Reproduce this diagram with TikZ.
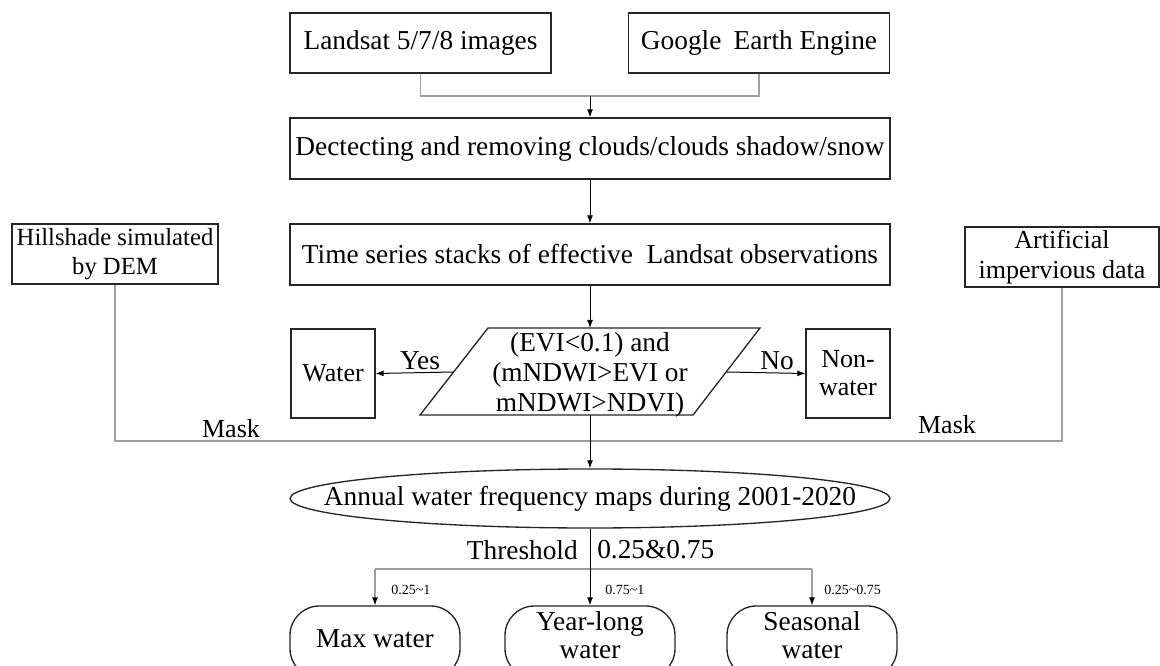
\documentclass[tikz,border=0pt]{standalone}
\usepackage{fontspec}
\setmainfont{Liberation Serif}
\usetikzlibrary{arrows.meta,shapes.geometric,calc}
\begin{document}
\begin{tikzpicture}[x=0.75pt,y=-0.75pt,
  box/.style={draw=black!85,line width=1pt,inner sep=0pt,align=center,font=\fontsize{20.5}{23}\selectfont},
  srcbox/.style={box,minimum width=195.75pt,minimum height=45pt},
  mainbox/.style={box,minimum width=450pt,minimum height=45.75pt},
  sidebox/.style={box,font=\fontsize{18.5}{22}\selectfont,minimum height=45pt},
  resbox/.style={box,font=\fontsize{19.5}{21}\selectfont,minimum width=63pt,minimum height=66.75pt},
  roundbox/.style={box,rounded corners=22pt,minimum width=127.5pt,minimum height=54pt},
  txt/.style={inner sep=0pt,align=center,font=\fontsize{20.5}{22.5}\selectfont},
  outtxt/.style={inner sep=0pt,align=center,font=\fontsize{20.5}{20.5}\selectfont},
  masktxt/.style={inner sep=0pt,font=\fontsize{19.5}{22}\selectfont},
  smalltxt/.style={inner sep=0pt,font=\fontsize{10.5}{12}\selectfont},
  link/.style={draw=gray!75,line width=0.8pt},
  arrow/.style={draw=black,line width=0.75pt,-{Latex[length=6pt,width=4.5pt]}},
  linkarrow/.style={draw=gray!75,line width=0.8pt,-{Latex[length=6pt,width=4.5pt,color=black]}}
]
\useasboundingbox (0,0) rectangle (1160,666);
\clip (0,0) rectangle (1160,666);

% top sources
\node[srcbox] (landsat) at (420.5,43) {Landsat 5/7/8 images};
\node[srcbox] (google) at (759,43) {Google\hspace{4pt} Earth Engine};
\coordinate (merge) at (590,96);

\node[mainbox] (detect) at (590,148.5) {Dectecting and removing clouds/clouds shadow/snow};
\node[mainbox] (timeser) at (590,254.5) {Time series stacks of effective\ \ Landsat observations};

\node[sidebox,minimum width=154.5pt] (hill) at (115,254) {Hillshade simulated\\by DEM};
\node[sidebox,minimum width=145.5pt,font=\fontsize{19.5}{23}\selectfont] (artif) at (1062,257) {Artificial\\impervious data};

% decision parallelogram
\coordinate (decBL) at (420,415);
\coordinate (decTL) at (488,328);
\coordinate (decTR) at (760,328);
\coordinate (decBR) at (693,415);
\draw[draw=black!85,line width=1pt] (decBL) -- (decTL) -- (decTR) -- (decBR) -- cycle;
\node[txt] (dec) at (590,375) {(EVI<0.1) and\\(mNDWI>EVI or\\mNDWI>NDVI)};
\coordinate (decT) at (590,328);
\coordinate (decB) at (590,415);
\coordinate (decL) at (453.6,372);
\coordinate (decR) at (726.6,372);

\node[resbox] (water) at (333,373.5) {Water};
\node[resbox] (nonwater) at (848,373.5) {Non-\\water};
\node[txt] (yes) at (420,361) {Yes};
\node[txt] (no) at (777,361) {No};

% mask
\coordinate (maskpt) at (590,441);
\node[masktxt] (maskl) at (231,429) {Mask};
\node[masktxt] (maskr) at (947,425) {Mask};

% annual ellipse
\node[ellipse,draw=black!85,line width=1pt,minimum width=450pt,minimum height=44.25pt,inner sep=0pt] (annual) at (590,498.5) {};
\node[txt] (annualtxt) at (annual.center) {Annual water frequency maps during 2001-2020};

\node[txt,anchor=east] (thr) at (578,550) {Threshold};
\node[txt,anchor=west] (thrv) at (597,550) {0.25\&0.75};
\coordinate (branch) at (590,569);

% outputs
\node[roundbox] (maxw) at (375,642) {};
\node[roundbox] (yearl) at (590,642) {};
\node[roundbox] (seas) at (812,642) {};
\node[outtxt] (maxwt) at (375,639) {Max water};
\node[outtxt] (yearlt) at (590,635) {Year-long\\water};
\node[outtxt] (seast) at (812,635) {Seasonal\\water};

\node[smalltxt,anchor=west] (r1) at (391,590) {0.25\textasciitilde 1};
\node[smalltxt,anchor=west] (r2) at (605,590) {0.75\textasciitilde 1};
\node[smalltxt,anchor=west] (r3) at (824,590) {0.25\textasciitilde 0.75};

% connectors
\draw[link] (landsat.south) |- (merge) -| (google.south);
\draw[arrow] (merge) -- (detect.north);
\draw[arrow] (detect.south) -- (timeser.north);
\draw[arrow] (timeser.south) -- (decT);
\draw[arrow] (decL) -- (water.east);
\draw[arrow] (decR) -- (nonwater.west);
\draw[link] (hill.south) |- (maskpt) -| (artif.south);
\draw[arrow] (decB) -- (annual.north);
\draw[link] (maxw.north |- branch) -- (seas.north |- branch);
\draw[arrow] (annual.south) -- (yearl.north);
\draw[linkarrow] (maxw.north |- branch) -- (maxw.north);
\draw[linkarrow] (seas.north |- branch) -- (seas.north);
\end{tikzpicture}
\end{document}
